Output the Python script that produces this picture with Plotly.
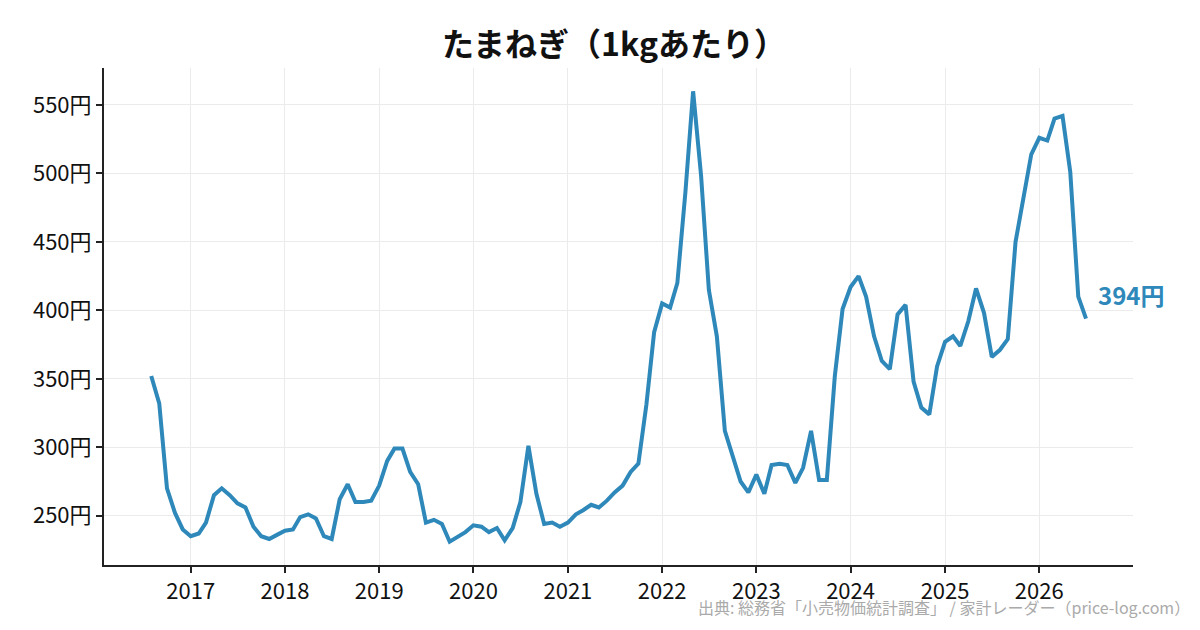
import pandas as pd
import plotly.graph_objects as go

# monthly price of onions per 1kg (yen), 2016-08 .. 2026-07
months = pd.date_range("2016-08-01", "2026-07-01", freq="MS")
prices = [
    352, 332, 270, 252, 240,
    235, 237, 245, 265, 270, 265, 259, 256, 242, 235, 233, 236,
    239, 240, 249, 251, 248, 235, 233, 262, 273, 260, 260, 261,
    272, 290, 299, 299, 282, 273, 245, 247, 244, 231, 235, 238,
    243, 242, 238, 241, 232, 241, 260, 301, 266, 244, 245, 242,
    245, 251, 254, 258, 256, 261, 267, 272, 282, 288, 331, 384,
    405, 402, 420, 486, 560, 498, 415, 381, 312, 293, 275, 267,
    280, 266, 287, 288, 287, 274, 285, 312, 276, 276, 352, 401,
    417, 425, 410, 381, 363, 357, 397, 404, 348, 329, 324, 359,
    377, 381, 374, 392, 416, 398, 366, 371, 379, 450, 482, 514,
    526, 524, 540, 542, 501, 410, 394,
]
year_ticks = [f"{y}-01-01" for y in range(2017, 2027)]
year_labels = [str(y) for y in range(2017, 2027)]
yen_ticks = [250, 300, 350, 400, 450, 500, 550]

color = "#2E88BA"
font = "Noto Sans CJK JP"

# page has an 8px body margin, so the plot box is shifted back by 8px
L, T, R, B = 96, 60, 1125, 557

fig = go.Figure()
fig.add_trace(go.Scatter(x=months, y=prices, mode="lines",
                         line=dict(color=color, width=4), hoverinfo="skip"))

fig.add_annotation(x=months[-1], y=prices[-1], text=f"<b>{prices[-1]}円</b>",
                   showarrow=False, xanchor="left", yanchor="middle",
                   xshift=10, yshift=24, font=dict(size=24, color=color, family=font))
fig.add_annotation(x=(1184 - L) / (R - L), y=(B - 599) / (B - T), xref="paper", yref="paper",
                   text="出典: 総務省「小売物価統計調査」 / 家計レーダー（price-log.com）",
                   showarrow=False, xanchor="right", yanchor="middle",
                   font=dict(size=16, color="#AAAAAA", family=font))

fig.update_layout(
    width=1200, height=630,
    margin=dict(l=L, r=1200 - R, t=T, b=630 - B),
    paper_bgcolor="white", plot_bgcolor="white",
    showlegend=False,
    font=dict(family=font, size=22, color="#111111"),
    title=dict(text="<b>たまねぎ（1kgあたり）</b>", x=606 / 1200, xanchor="center",
               y=1 - 37 / 630, yanchor="middle", font=dict(size=32, color="#111111", family=font)),
)
fig.update_xaxes(
    range=["2016-01-31", "2026-12-30"],
    tickvals=year_ticks, ticktext=year_labels,
    showgrid=True, gridcolor="#EBEBEB", gridwidth=1,
    showline=True, linecolor="#222222", linewidth=2,
    ticks="outside", ticklen=6, tickwidth=2, tickcolor="#222222",
    zeroline=False,
)
fig.update_yaxes(
    range=[214, 577],
    tickvals=yen_ticks, ticktext=[f"{v}円" for v in yen_ticks],
    showgrid=True, gridcolor="#EBEBEB", gridwidth=1,
    showline=True, linecolor="#222222", linewidth=2,
    ticks="outside", ticklen=6, tickwidth=2, tickcolor="#222222",
    zeroline=False,
)

fig.write_html("out.html")
